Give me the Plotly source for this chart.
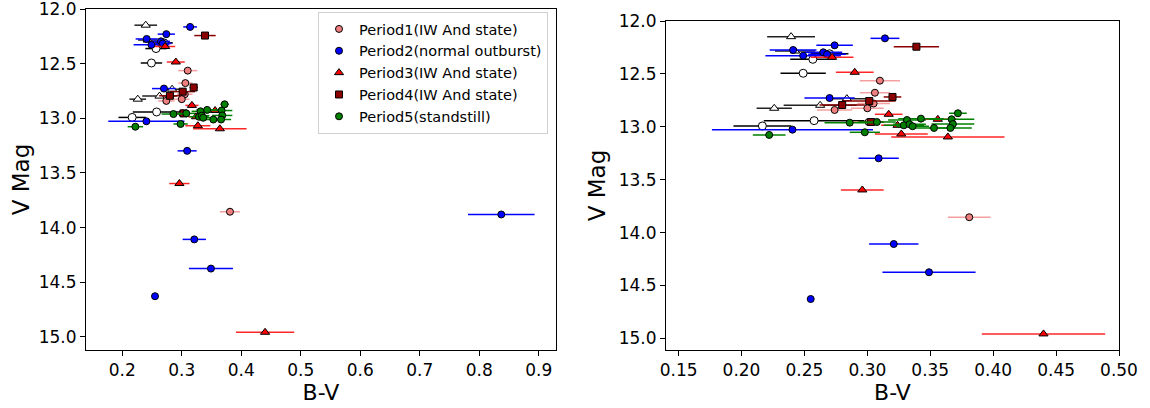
import plotly.graph_objects as go

# Period1 (IW And state) - lightcoral circles
p1_x = [0.310, 0.306, 0.305, 0.300, 0.274, 0.301, 0.381]
p1_y = [12.564, 12.678, 12.78, 12.825, 12.841, 12.955, 13.855]
p1_e = [0.016, 0.012, 0.013, 0.013, 0.014, 0.013, 0.017]

# Period2 (normal outburst) - blue circles
p2_x = [0.314, 0.274, 0.241, 0.249, 0.265, 0.268, 0.270, 0.2405, 0.309, 0.321, 0.349, 0.255, 0.837]
p2_y = [12.164, 12.23, 12.274, 12.328, 12.296, 12.315, 12.728, 13.027, 13.298, 14.108, 14.375, 14.628, 13.88]
p2_e = [0.0115, 0.0145, 0.0186, 0.03, 0.015, 0.015, 0.02, 0.064, 0.016, 0.0196, 0.037, 0.0, 0.056]

# Period3 (IW And state) - red triangles
p3_x = [0.272, 0.290, 0.317, 0.356, 0.324, 0.327, 0.364, 0.296, 0.440]
p3_y = [12.343, 12.485, 12.882, 12.929, 12.986, 13.068, 13.096, 13.597, 14.958]
p3_e = [0.017, 0.015, 0.011, 0.015, 0.013, 0.021, 0.045, 0.017, 0.049]

# Period4 (IW And state) - darkred squares
p4_x = [0.339, 0.320, 0.3015, 0.280, 0.303]
p4_y = [12.243, 12.718, 12.756, 12.794, 12.955]
p4_e = [0.018, 0.007, 0.021, 0.018, 0.010]

# Period5 (standstill) - green circles
p5_x = [0.372, 0.286, 0.3076, 0.3315, 0.3426, 0.367, 0.368, 0.329, 0.3335, 0.336, 0.353, 0.366, 0.222, 0.298]
p5_y = [12.872, 12.961, 12.955, 12.936, 12.923, 12.929, 12.974, 12.986, 12.976, 12.995, 13.011, 13.011, 13.077, 13.052]
p5_e = [0.007, 0.02, 0.015, 0.015, 0.018, 0.018, 0.017, 0.016, 0.013, 0.013, 0.017, 0.017, 0.013, 0.012]

# unlabelled white circles / triangles
wc_x = [0.2567, 0.249, 0.2577, 0.2166, 0.270]
wc_y = [12.362, 12.494, 12.942, 12.992, 12.31]
wc_e = [0.018, 0.018, 0.040, 0.023, 0.015]

wt_x = [0.2394, 0.2426, 0.2837, 0.2625, 0.226]
wt_y = [12.148, 12.284, 12.734, 12.797, 12.825]
wt_e = [0.019, 0.016, 0.016, 0.029, 0.014]

series = [
    dict(x=wc_x, y=wc_y, e=wc_e, name="", fill="white", ecol="black", sym="circle", size=8, legend=False),
    dict(x=wt_x, y=wt_y, e=wt_e, name="", fill="white", ecol="#222222", sym="triangle-up", size=8, legend=False),
    dict(x=p1_x, y=p1_y, e=p1_e, name="Period1(IW And state)", fill="#F08080", ecol="rgba(240,128,128,0.75)", sym="circle", size=7, legend=True),
    dict(x=p2_x, y=p2_y, e=p2_e, name="Period2(normal outburst)", fill="#0000FF", ecol="#0000FF", sym="circle", size=7, legend=True),
    dict(x=p3_x, y=p3_y, e=p3_e, name="Period3(IW And state)", fill="#FF0000", ecol="rgba(255,0,0,0.85)", sym="triangle-up", size=8, legend=True),
    dict(x=p4_x, y=p4_y, e=p4_e, name="Period4(IW And state)", fill="#8B0000", ecol="#8B0000", sym="square", size=7, legend=True),
    dict(x=p5_x, y=p5_y, e=p5_e, name="Period5(standstill)", fill="#008000", ecol="#008000", sym="circle", size=7, legend=True),
]

fig = go.Figure()
for k, (xa, ya) in enumerate([("x", "y"), ("x2", "y2")]):
    for s in series:
        fig.add_trace(go.Scatter(
            x=s["x"], y=s["y"], mode="markers", name=s["name"],
            xaxis=xa, yaxis=ya,
            showlegend=(s["legend"] and k == 0),
            marker=dict(symbol=s["sym"], size=s["size"], color=s["fill"],
                        line=dict(color="black", width=1)),
            error_x=dict(type="data", array=s["e"], color=s["ecol"], thickness=1.5, width=0),
        ))

font_family = "DejaVu Sans"
W, H = 1150, 408


def fx(px):
    return min(max(px / W, 0.0), 1.0)


def fy(py):
    return min(max((H - py) / H, 0.0), 1.0)


axis_common = dict(showline=True, linecolor="black", linewidth=1, mirror=True,
                   ticks="outside", ticklen=5, tickcolor="black", showgrid=False,
                   zeroline=False, automargin=False, ticklabeloverflow="allow",
                   tickfont=dict(size=17, color="black", family=font_family))

fig.update_layout(
    width=W, height=H,
    margin=dict(l=0, r=0, t=0, b=0, autoexpand=False),
    paper_bgcolor="white", plot_bgcolor="white",
    font=dict(family=font_family, color="black"),
    xaxis=dict(domain=[fx(86), fx(556)], range=[0.139, 0.929], dtick=0.1, tick0=0,
               tickformat=".1f", anchor="y",
               title=dict(text="B-V", font=dict(size=22), standoff=4), **axis_common),
    yaxis=dict(domain=[fy(350), fy(9)], range=[15.12, 12.0], dtick=0.5, tick0=0,
               tickformat=".1f", anchor="x",
               title=dict(text="V Mag", font=dict(size=23), standoff=2), **axis_common),
    xaxis2=dict(domain=[fx(666), fx(1119)], range=[0.14, 0.5], dtick=0.05, tick0=0,
                tickformat=".2f", anchor="y2",
                title=dict(text="B-V", font=dict(size=22), standoff=4), **axis_common),
    yaxis2=dict(domain=[fy(350), fy(21)], range=[15.11, 12.0], dtick=0.5, tick0=0,
                tickformat=".1f", anchor="x2",
                title=dict(text="V Mag", font=dict(size=23), standoff=6), **axis_common),
    legend=dict(x=fx(548), y=fy(12), xanchor="right", yanchor="top",
                bgcolor="rgba(255,255,255,0.85)", bordercolor="#d0d0d0", borderwidth=1,
                font=dict(size=14.5, family=font_family, color="black"),
                tracegroupgap=0, itemsizing="trace"),
)

# remove the default page margin so the figure sits at the top-left corner
fig.write_html("out.html", config={"displayModeBar": False},
               post_script="document.body.style.margin='0px';")
